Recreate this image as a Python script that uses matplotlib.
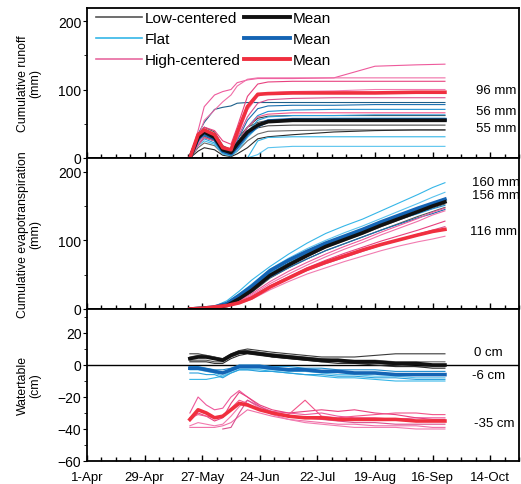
import matplotlib
matplotlib.use("Agg")
import matplotlib.pyplot as plt
import numpy as np
from matplotlib.lines import Line2D
from matplotlib.ticker import MultipleLocator

plt.rcParams['font.family'] = ['Liberation Sans', 'DejaVu Sans']

# x axis: days after 1 April
tick_days = [0, 28, 56, 84, 112, 140, 168, 196]
tick_labels = ['1-Apr', '29-Apr', '27-May', '24-Jun', '22-Jul', '19-Aug', '16-Sep', '14-Oct']

# ---- cumulative runoff (mm) ----
runoff_days = [50, 54, 57, 62, 66, 70, 73, 78, 83, 88, 100, 120, 140, 160, 174]
runoff_low = [
    [0, 20, 30, 25, 10, 6, 22, 45, 58, 61, 62, 62, 62, 62, 62],
    [0, 35, 45, 38, 18, 12, 28, 45, 52, 55, 56, 56, 57, 57, 57],
    [0, 15, 22, 18, 6, 3, 10, 25, 35, 39, 40, 41, 41, 41, 41],
    [0, 10, 15, 12, 4, 2, 6, 15, 28, 31, 34, 38, 40, 41, 41],
    [0, 25, 32, 26, 10, 5, 18, 35, 44, 47, 48, 48, 48, 48, 48],
]
runoff_flat = [
    [0, 0, 0, 0, 0, 0, 0, 0, 25, 30, 31, 31, 31, 31, 31],
    [0, 0, 0, 0, 0, 0, 0, 0, 5, 15, 17, 17, 17, 17, 17],
    [0, 25, 33, 27, 10, 6, 20, 45, 62, 68, 70, 71, 71, 71, 71],
    [0, 20, 28, 22, 8, 4, 14, 38, 55, 60, 62, 62, 63, 63, 63],
    [0, 30, 38, 30, 12, 8, 25, 55, 72, 76, 77, 77, 78, 78, 78],
    [0, 18, 25, 20, 6, 3, 10, 30, 45, 53, 57, 58, 58, 58, 58],
    [0, 35, 52, 71, 74, 76, 80, 81, 81, 81, 81, 81, 81, 81, 81],
]
runoff_high = [
    [0, 40, 75, 92, 97, 100, 110, 114, 116, 116, 116, 117, 134, 136, 137],
    [0, 30, 55, 70, 82, 92, 105, 115, 117, 117, 117, 117, 117, 117, 117],
    [0, 28, 45, 40, 25, 20, 45, 90, 108, 111, 112, 112, 112, 112, 112],
    [0, 20, 35, 30, 15, 10, 30, 70, 90, 95, 97, 98, 100, 100, 100],
    [0, 25, 38, 32, 14, 10, 28, 60, 80, 85, 87, 88, 88, 88, 88],
    [0, 18, 30, 25, 10, 6, 20, 45, 60, 64, 66, 66, 66, 66, 66],
]
runoff_mean_low = [0, 30, 38, 30, 12, 8, 20, 38, 48, 53, 55, 55, 55, 55, 55]
runoff_mean_flat = [0, 28, 36, 28, 10, 6, 16, 35, 47, 54, 56, 56, 56, 56, 56]
runoff_mean_high = [0, 34, 41, 34, 15, 12, 37, 75, 93, 94, 95, 95, 95, 96, 96]

# ---- cumulative evapotranspiration (mm) ----
et_days = [50, 56, 62, 68, 74, 80, 89, 98, 107, 116, 125, 134, 143, 152, 161, 168, 174]
et_low = [
    [0, 1, 2, 6, 17, 29, 52, 67, 81, 94, 104, 114, 125, 136, 146, 154, 161],
    [0, 0, 2, 4, 12, 24, 45, 60, 73, 85, 95, 105, 115, 125, 135, 142, 148],
    [0, 1, 2, 5, 14, 26, 47, 62, 76, 89, 99, 109, 120, 130, 140, 147, 153],
]
et_flat = [
    [0, 1, 4, 12, 26, 42, 62, 80, 96, 110, 121, 131, 143, 155, 167, 177, 184],
    [0, 1, 3, 9, 22, 36, 58, 74, 88, 100, 111, 121, 132, 143, 154, 163, 170],
    [0, 0, 2, 6, 17, 30, 52, 66, 80, 92, 102, 112, 122, 131, 139, 146, 151],
    [0, 0, 2, 7, 18, 31, 54, 69, 82, 94, 104, 114, 124, 134, 144, 151, 157],
    [0, 0, 1, 5, 14, 26, 46, 60, 73, 85, 95, 105, 115, 124, 133, 139, 145],
]
et_high = [
    [0, 1, 3, 6, 13, 22, 40, 55, 68, 80, 91, 101, 112, 122, 132, 141, 147],
    [0, 1, 3, 6, 12, 20, 37, 51, 64, 76, 87, 97, 108, 118, 128, 137, 143],
    [0, 1, 3, 5, 10, 18, 34, 47, 60, 71, 81, 90, 99, 107, 115, 122, 128],
    [0, 1, 2, 4, 8, 14, 28, 40, 51, 60, 69, 77, 85, 92, 98, 102, 106],
    [0, 1, 2, 5, 10, 17, 33, 45, 56, 66, 75, 84, 93, 101, 109, 115, 120],
]
et_mean_low = [0, 1, 2, 5, 15, 27, 49, 64, 78, 91, 101, 111, 122, 132, 142, 150, 156]
et_mean_flat = [0, 1, 3, 8, 20, 33, 56, 71, 84, 96, 106, 116, 127, 137, 147, 154, 160]
et_mean_high = [0, 1, 3, 5, 9, 16, 32, 45, 58, 68, 77, 86, 94, 101, 108, 113, 116]

# ---- water table (cm) ----
wt_days = [50, 54, 58, 62, 66, 70, 74, 78, 84, 90, 98, 106, 114, 122, 130, 140, 150, 160, 168, 174]
wt_low = [
    [7, 7, 6, 5, 4, 7, 9, 10, 9, 8, 7, 6, 5, 5, 5, 6, 7, 7, 7, 7],
    [3, 3, 3, 2, 2, 5, 7, 8, 7, 5, 4, 3, 2, 2, 1, 1, 0, -1, -1, -1],
    [5, 6, 6, 5, 3, 6, 9, 9, 8, 7, 6, 5, 4, 3, 3, 3, 2, 2, 2, 2],
    [2, 2, 2, 1, 1, 4, 6, 7, 6, 5, 4, 3, 2, 1, 1, 0, -1, -1, -2, -2],
]
wt_flat = [
    [-9, -9, -9, -8, -7, -5, -3, -3, -3, -4, -5, -6, -7, -8, -8, -9, -10, -10, -10, -10],
    [-3, -3, -4, -5, -7, -4, -2, -2, -2, -3, -4, -4, -5, -6, -6, -7, -7, -8, -8, -8],
    [-1, -1, -2, -3, -3, -2, 0, 0, 0, -1, -1, -2, -2, -3, -3, -3, -4, -4, -4, -4],
    [-5, -5, -6, -6, -8, -5, -3, -3, -4, -4, -5, -6, -6, -7, -7, -8, -8, -9, -9, -9],
]
wt_high = [
    [-30, -20, -25, -28, -27, -20, -16, -20, -26, -29, -30, -31, -30, -32, -33, -33, -34, -33, -33, -33],
    [-39, -39, -39, -39, -38, -36, -32, -28, -30, -32, -34, -35, -36, -37, -37, -38, -38, -38, -39, -39],
    [-35, -30, -32, -35, -33, -24, -17, -20, -25, -28, -30, -29, -28, -29, -28, -30, -31, -33, -34, -34],
    [-38, -36, -37, -38, -37, -32, -26, -22, -27, -31, -34, -36, -37, -38, -39, -39, -39, -40, -40, -40],
    [np.nan, np.nan, np.nan, np.nan, -40, -39, -30, -22, -26, -30, -32, -33, -34, -35, -36, -36, -37, -37, -37, -37],
    [-33, -31, -32, -33, -32, -27, -22, -24, -28, -30, -31, -22, -32, -33, -32, -31, -30, -30, -31, -31],
]
wt_mean_low = [4, 5, 5, 4, 3, 6, 8, 8, 7, 6, 5, 4, 3, 3, 2, 2, 1, 1, 0, 0]
wt_mean_flat = [-2, -2, -3, -4, -5, -3, -1, -1, -1, -2, -3, -3, -4, -4, -5, -5, -6, -6, -6, -6]
wt_mean_high = [-34, -28, -30, -33, -32, -28, -24, -25, -28, -30, -32, -33, -33, -34, -34, -34, -34, -35, -35, -35]

c_low = ['#3a3a3a', '#555555', '#6a6a6a', '#2b2b2b', '#4a4a4a']
c_flat = ['#35b6e8', '#59c3ee', '#1f8fd0', '#2aa0dc', '#1a6fb0', '#47bde9', '#1d5f8a']
c_high = ['#ee5a9c', '#f06fa8', '#e8417f', '#f27bb0', '#d9508f', '#f2558a']
m_low, m_flat, m_high = '#111111', '#1464b4', '#f02f3f'

fig = plt.figure(figsize=(5.21, 4.85), dpi=100)
L, W = 87 / 521, 432 / 521
ax1 = fig.add_axes([L, 1 - 159 / 485, W, 150 / 485])
ax2 = fig.add_axes([L, 1 - 310 / 485, W, 151 / 485])
ax3 = fig.add_axes([L, 1 - 462 / 485, W, 152 / 485])


def draw(ax, days, low, flat, high, mlow, mflat, mhigh):
    for i, v in enumerate(low):
        ax.plot(days, v, color=c_low[i % len(c_low)], lw=0.8)
    for i, v in enumerate(flat):
        ax.plot(days, v, color=c_flat[i % len(c_flat)], lw=0.8)
    for i, v in enumerate(high):
        ax.plot(days, v, color=c_high[i % len(c_high)], lw=0.8)
    ax.plot(days, mflat, color=m_flat, lw=2.6)
    ax.plot(days, mlow, color=m_low, lw=2.6)
    ax.plot(days, mhigh, color=m_high, lw=2.6)


draw(ax1, runoff_days, runoff_low, runoff_flat, runoff_high,
     runoff_mean_low, runoff_mean_flat, runoff_mean_high)
draw(ax2, et_days, et_low, et_flat, et_high,
     et_mean_low, et_mean_flat, et_mean_high)
ax3.axhline(0, color='black', lw=1.0, zorder=1)
draw(ax3, wt_days, wt_low, wt_flat, wt_high,
     wt_mean_low, wt_mean_flat, wt_mean_high)

ax1.set_ylim(0, 219)
ax2.set_ylim(0, 220)
ax3.set_ylim(-60, 35)
ax1.yaxis.set_major_locator(MultipleLocator(100))
ax1.yaxis.set_minor_locator(MultipleLocator(50))
ax2.yaxis.set_major_locator(MultipleLocator(100))
ax2.yaxis.set_minor_locator(MultipleLocator(50))
ax3.set_yticks([-60, -40, -20, 0, 20])
ax3.yaxis.set_minor_locator(MultipleLocator(10))

for ax in (ax1, ax2, ax3):
    ax.set_xlim(0, 210)
    ax.set_xticks(tick_days)
    ax.xaxis.set_minor_locator(MultipleLocator(7))
    ax.tick_params(axis='x', which='both', direction='in', length=3, width=1)
    ax.tick_params(axis='x', which='major', length=4, pad=7)
    ax.tick_params(axis='y', which='major', direction='out', length=3, labelsize=10, pad=1)
    ax.tick_params(axis='y', which='minor', direction='out', length=2)
    for s in ax.spines.values():
        s.set_linewidth(1.3)
for ax in (ax1, ax2):
    ax.set_xticklabels([])
ax3.set_xticklabels(tick_labels, fontsize=9.5)

ylabel_kw = dict(fontsize=8.8, linespacing=1.1)
ax1.set_ylabel('Cumulative runoff\n(mm)', **ylabel_kw)
ax2.set_ylabel('Cumulative evapotranspiration\n(mm)', **ylabel_kw)
ax3.set_ylabel('Watertable\n(cm)', **ylabel_kw)
for ax in (ax1, ax2, ax3):
    ax.yaxis.set_label_coords(-0.105, 0.5)

# end-of-season labels
ann = dict(fontsize=9.5, va='center', ha='left', clip_on=False)
ax1.text(189, 100, '96 mm', **ann)
ax1.text(189, 69, '56 mm', **ann)
ax1.text(189, 44, '55 mm', **ann)
ax2.text(187, 185, '160 mm', **ann)
ax2.text(187, 166, '156 mm', **ann)
ax2.text(186, 114, '116 mm', **ann)
ax3.text(188, 8, '0 cm', **ann)
ax3.text(187, -6, '-6 cm', **ann)
ax3.text(188, -36, '-35 cm', **ann)

handles = [
    Line2D([], [], color='#555555', lw=1.2),
    Line2D([], [], color='#35b6e8', lw=1.2),
    Line2D([], [], color='#e86aa0', lw=1.2),
    Line2D([], [], color=m_low, lw=2.8),
    Line2D([], [], color=m_flat, lw=2.8),
    Line2D([], [], color=m_high, lw=2.8),
]
labels = ['Low-centered', 'Flat', 'High-centered', 'Mean', 'Mean', 'Mean']
ax1.legend(handles, labels, ncol=2, frameon=False, loc='upper left',
           bbox_to_anchor=(0.0, 1.04), fontsize=11, handlelength=3.0,
           handletextpad=0.2, columnspacing=0.2, labelspacing=0.45,
           borderaxespad=0.2)

fig.savefig('out.png', dpi=100)
